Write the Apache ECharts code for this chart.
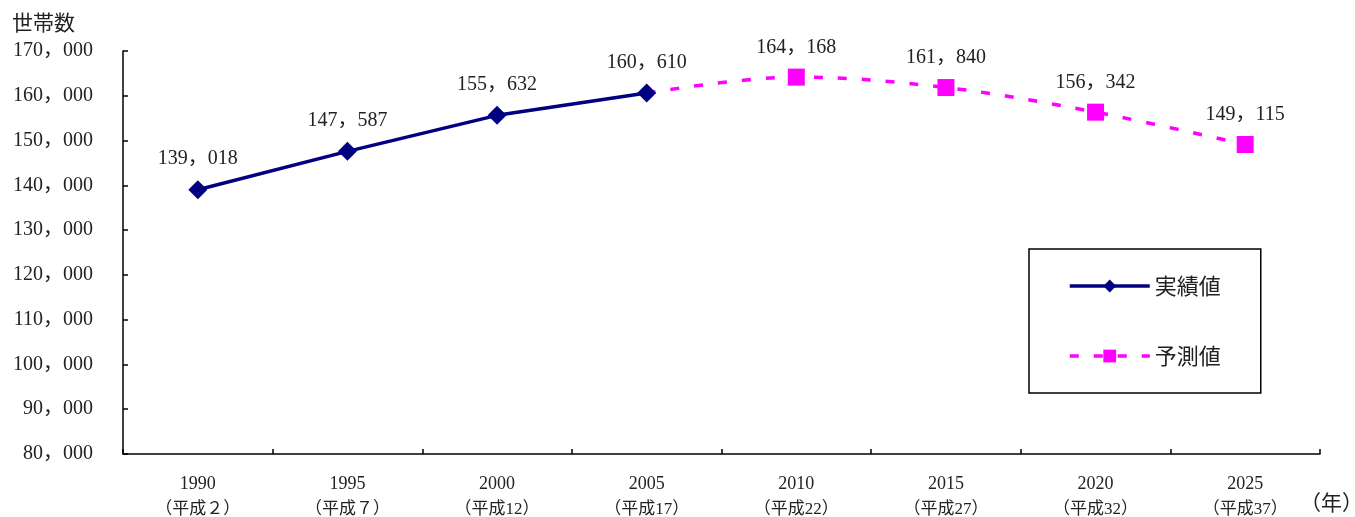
<!DOCTYPE html>
<html>
<head>
<meta charset="utf-8">
<script src="https://cdn.jsdelivr.net/npm/echarts@6/dist/echarts.min.js"></script>
<style>
  html, body { margin: 0; padding: 0; background: #fff; }
  #chart { width: 1355px; height: 517px; }
</style>
</head>
<body>
<div id="chart"></div>
<script>
// 世帯数の推移（実績値と予測値）
const years = ['1990', '1995', '2000', '2005', '2010', '2015', '2020', '2025'];
const eraLabels = ['（平成２）', '（平成７）', '（平成12）', '（平成17）', '（平成22）', '（平成27）', '（平成32）', '（平成37）'];
const actualValues = [139018, 147587, 155632, 160610, null, null, null, null];
const forecastValues = [null, null, null, 160610, 164168, 161840, 156342, 149115];
const yTicks = { min: 80000, max: 170000, interval: 10000 };

const serif = "'Liberation Serif', 'DejaVu Serif', 'Noto Sans CJK JP', serif";
// thousands separated with a full-width comma
const fmt = v => String(v).replace(/\B(?=(\d{3})+(?!\d))/g, '，');

const chart = echarts.init(document.getElementById('chart'), null, { renderer: 'canvas' });

// the 2005 forecast point joins the two lines; its marker and label come from the actual series
const forecastData = forecastValues.map((v, i) =>
  (i === 3 ? { value: v, symbol: 'none', label: { show: false } } : v));

const valueLabel = {
  show: true,
  position: 'top',
  distance: 11,
  fontFamily: serif,
  fontSize: 20,
  color: '#222',
  formatter: p => fmt(p.value)
};

chart.setOption({
  animation: false,
  grid: { left: 123, right: 35, top: 51, bottom: 63, containLabel: false, outerBoundsMode: 'none' },
  graphic: [
    { type: 'text', left: 12, top: 12, style: { text: '世帯数', font: "21px 'Noto Sans CJK JP'", fill: '#222' } },
    { type: 'text', left: 1300, top: 492, style: { text: '（年）', font: "21px 'Noto Sans CJK JP'", fill: '#222' } }
  ],
  legend: {
    orient: 'vertical',
    left: 1029,
    top: 249,
    padding: [26, 40, 26, 39],
    itemGap: 48,
    itemWidth: 80,
    itemHeight: 16,
    borderColor: '#000',
    borderWidth: 1.5,
    textStyle: { fontFamily: "'Noto Sans CJK JP'", fontSize: 22, color: '#222', padding: [0, 0, 0, 0] },
    data: [
      { name: '実績値', lineStyle: { width: 3.5 } },
      { name: '予測値', lineStyle: { width: 3.5 } }
    ]
  },
  xAxis: {
    type: 'category',
    data: years,
    boundaryGap: true,
    axisLine: { lineStyle: { color: '#000', width: 1.5 } },
    axisTick: { show: true, inside: true, length: 5, lineStyle: { color: '#000', width: 1.5 } },
    axisLabel: {
      margin: 18,
      color: '#222',
      formatter: (v, i) => '{y|' + v + '}\n{e|' + eraLabels[i] + '}',
      rich: {
        y: { fontFamily: serif, fontSize: 18, lineHeight: 25, color: '#222' },
        e: { fontFamily: serif, fontSize: 17, lineHeight: 25, color: '#222' }
      }
    }
  },
  yAxis: {
    type: 'value',
    min: yTicks.min,
    max: yTicks.max,
    interval: yTicks.interval,
    splitLine: { show: false },
    axisLine: { show: true, lineStyle: { color: '#000', width: 1.5 } },
    axisTick: { show: true, inside: true, length: 5, lineStyle: { color: '#000', width: 1.5 } },
    axisLabel: {
      margin: 30,
      fontFamily: serif,
      fontSize: 20,
      color: '#222',
      formatter: v => fmt(v)
    }
  },
  series: [
    {
      name: '予測値',
      type: 'line',
      data: forecastData,
      smooth: 0.35,
      z: 2,
      symbol: 'rect',
      symbolSize: 17,
      color: '#FF00FF',
      itemStyle: { color: '#FF00FF' },
      lineStyle: { color: '#FF00FF', width: 3.5, type: [9, 15] },
      label: valueLabel
    },
    {
      name: '実績値',
      type: 'line',
      data: actualValues,
      z: 3,
      symbol: 'diamond',
      symbolSize: 19,
      color: '#000080',
      itemStyle: { color: '#000080' },
      lineStyle: { color: '#000080', width: 3.5 },
      label: valueLabel
    }
  ]
});
</script>
</body>
</html>
